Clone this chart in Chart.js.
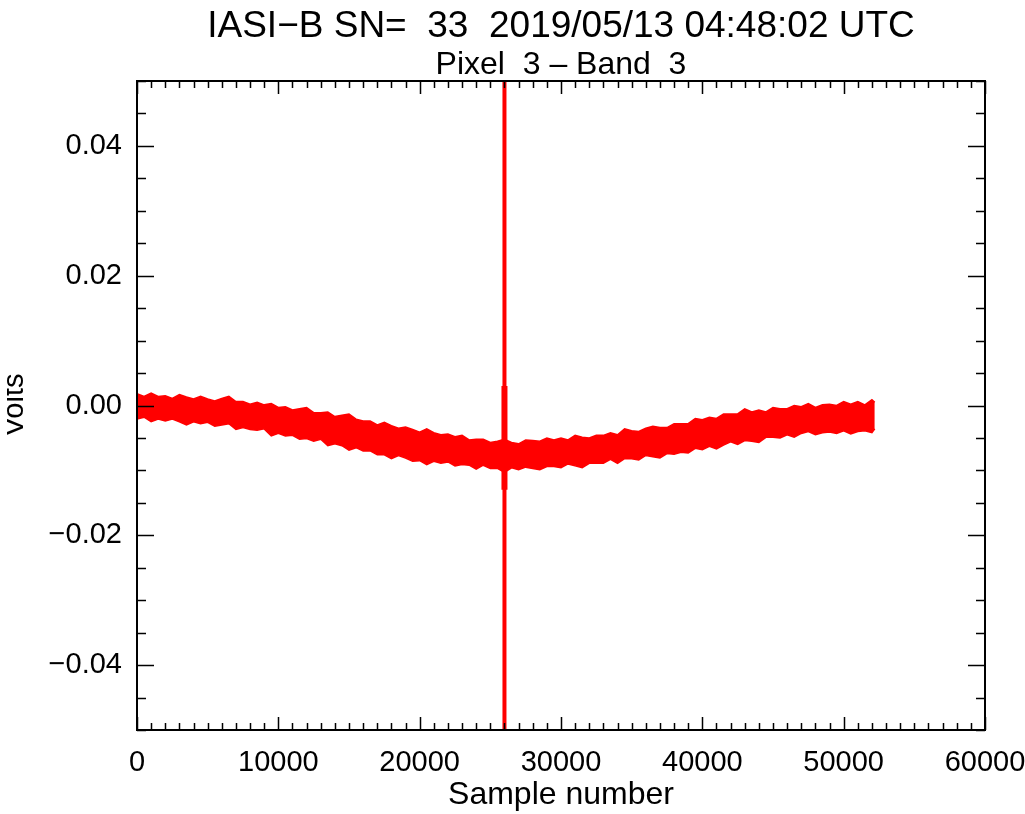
<!DOCTYPE html>
<html>
<head>
<meta charset="utf-8">
<script src="https://cdn.jsdelivr.net/npm/chart.js@4.4.1/dist/chart.umd.min.js"></script>
<style>
  body { margin: 0; background: #fff; }
  canvas { display: block; }
</style>
</head>
<body>
<canvas id="grafico" width="1025" height="814"></canvas>
<script>
// amostras (eixo x) onde foram lidos os limites da faixa de ruido
const amostras = [
  0, 500, 1000, 1500, 2000, 2500, 3000, 3500, 4000, 4500,
  5000, 5500, 6000, 6500, 7000, 7500, 8000, 8500, 9000, 9500,
  10000, 10500, 11000, 11500, 12000, 12500, 13000, 13500, 14000, 14500,
  15000, 15500, 16000, 16500, 17000, 17500, 18000, 18500, 19000, 19500,
  20000, 20500, 21000, 21500, 22000, 22500, 23000, 23500, 24000, 24500,
  25000, 25500, 26000, 26500, 27000, 27500, 28000, 28500, 29000, 29500,
  30000, 30500, 31000, 31500, 32000, 32500, 33000, 33500, 34000, 34500,
  35000, 35500, 36000, 36500, 37000, 37500, 38000, 38500, 39000, 39500,
  40000, 40500, 41000, 41500, 42000, 42500, 43000, 43500, 44000, 44500,
  45000, 45500, 46000, 46500, 47000, 47500, 48000, 48500, 49000, 49500,
  50000, 50500, 51000, 51500, 52000, 52200
];

// limite superior da faixa (volts)
const limiteSuperior = [
  0.0018, 0.0014, 0.0019, 0.0014, 0.0015, 0.0011, 0.0017, 0.0013, 0.0010, 0.0014,
  0.0010, 0.0007, 0.0011, 0.0014, 0.0006, 0.0006, 0.0002, 0.0005, 0.0001, 0.0003,
  -0.0003, -0.0002, -0.0007, -0.0005, -0.0003, -0.0011, -0.0011, -0.0010, -0.0017, -0.0015,
  -0.0013, -0.0021, -0.0024, -0.0024, -0.0030, -0.0026, -0.0031, -0.0035, -0.0033, -0.0037,
  -0.0041, -0.0036, -0.0042, -0.0045, -0.0044, -0.0048, -0.0046, -0.0053, -0.0052, -0.0052,
  -0.0057, -0.0055, -0.0052, -0.0057, -0.0059, -0.0053, -0.0054, -0.0055, -0.0050, -0.0053,
  -0.0050, -0.0053, -0.0046, -0.0049, -0.0050, -0.0046, -0.0046, -0.0042, -0.0045, -0.0036,
  -0.0039, -0.0040, -0.0035, -0.0032, -0.0034, -0.0034, -0.0028, -0.0028, -0.0028, -0.0020,
  -0.0022, -0.0018, -0.0020, -0.0013, -0.0013, -0.0013, -0.0005, -0.0010, -0.0007, -0.0010,
  -0.0003, -0.0005, -0.0005, 0.0000, -0.0002, 0.0003, -0.0003, 0.0001, 0.0002, 0.0000,
  0.0006, 0.0002, 0.0006, 0.0001, 0.0009, 0.0005
];

// limite inferior da faixa (volts)
const limiteInferior = [
  -0.0021, -0.0018, -0.0025, -0.0021, -0.0024, -0.0021, -0.0025, -0.0030, -0.0025, -0.0028,
  -0.0026, -0.0032, -0.0030, -0.0028, -0.0037, -0.0034, -0.0037, -0.0038, -0.0036, -0.0047,
  -0.0043, -0.0047, -0.0046, -0.0052, -0.0051, -0.0055, -0.0052, -0.0062, -0.0059, -0.0062,
  -0.0069, -0.0065, -0.0070, -0.0070, -0.0076, -0.0076, -0.0082, -0.0077, -0.0081, -0.0086,
  -0.0085, -0.0091, -0.0086, -0.0089, -0.0087, -0.0093, -0.0091, -0.0092, -0.0098, -0.0092,
  -0.0097, -0.0097, -0.0103, -0.0096, -0.0099, -0.0095, -0.0097, -0.0099, -0.0094, -0.0094,
  -0.0096, -0.0090, -0.0093, -0.0096, -0.0089, -0.0089, -0.0089, -0.0083, -0.0089, -0.0082,
  -0.0082, -0.0084, -0.0077, -0.0079, -0.0081, -0.0074, -0.0075, -0.0072, -0.0073, -0.0066,
  -0.0068, -0.0063, -0.0067, -0.0061, -0.0056, -0.0060, -0.0054, -0.0055, -0.0057, -0.0049,
  -0.0049, -0.0050, -0.0045, -0.0049, -0.0043, -0.0040, -0.0045, -0.0042, -0.0041, -0.0043,
  -0.0039, -0.0044, -0.0040, -0.0039, -0.0042, -0.0036
];

// pico central (sai da escala nos dois sentidos)
const picoAmostras = [26000, 26000];
const picoVolts = [0.05, -0.05];
const nucleoAmostras = [26000, 26000];
const nucleoVolts = [0.003, -0.013];

// ticks
const xTicks = [0, 10000, 20000, 30000, 40000, 50000, 60000];
const xTickLabels = ['0', '10000', '20000', '30000', '40000', '50000', '60000'];
const yTicks = [-0.04, -0.02, 0.00, 0.02, 0.04];
const yTickLabels = ['\u22120.04', '\u22120.02', '0.00', '0.02', '0.04'];

const titulo = 'IASI\u2212B SN=  33  2019/05/13 04:48:02 UTC';
const subtitulo = 'Pixel  3 \u2013 Band  3';

const vermelho = '#ff0000';
const fonte = '"Liberation Sans", Arial, Helvetica, sans-serif';

function pontos(xs, ys) {
    return xs.map((v, i) => ({ x: v, y: ys[i] }));
}

// eixos no estilo IDL: caixa fechada e ticks para dentro
const eixosIDL = {
    id: 'eixosIDL',
    afterDatasetsDraw(chart) {
        const { ctx, chartArea: a, scales: { x, y } } = chart;
        ctx.save();
        ctx.strokeStyle = '#000';
        ctx.lineWidth = 1.5;
        ctx.beginPath();
        // ticks do eixo x: menor a cada 1000, maior a cada 10000
        const nx = Math.round((x.max - x.min) / 1000);
        for (let i = 0; i <= nx; i++) {
            const v = x.min + i * 1000;
            const px = Math.round(x.getPixelForValue(v)) + 0.5;
            const len = (v % 10000 === 0) ? 13 : 7;
            ctx.moveTo(px, a.bottom); ctx.lineTo(px, a.bottom - len);
            ctx.moveTo(px, a.top); ctx.lineTo(px, a.top + len);
        }
        // ticks do eixo y: menor a cada 0.005, maior a cada 0.02
        const ny = Math.round((y.max - y.min) / 0.005);
        for (let i = 0; i <= ny; i++) {
            const v = y.min + i * 0.005;
            const py = Math.round(y.getPixelForValue(v)) + 0.5;
            const q = v / 0.02;
            const len = Math.abs(q - Math.round(q)) < 1e-6 ? 17 : 9;
            ctx.moveTo(a.left, py); ctx.lineTo(a.left + len, py);
            ctx.moveTo(a.right, py); ctx.lineTo(a.right - len, py);
        }
        ctx.stroke();
        ctx.lineWidth = 2;
        ctx.strokeRect(a.left, a.top, a.right - a.left, a.bottom - a.top);
        ctx.restore();
    },
    afterDraw(chart) {
        const { ctx, chartArea: a } = chart;
        const cx = (a.left + a.right) / 2;
        ctx.save();
        ctx.fillStyle = '#000';
        ctx.textAlign = 'center';
        ctx.textBaseline = 'alphabetic';
        ctx.font = '37px ' + fonte;
        ctx.fillText(titulo, cx, 37);
        ctx.font = '32px ' + fonte;
        ctx.fillText(subtitulo, cx, 74);
        // rotulo do eixo y, cortado na borda esquerda como no original
        ctx.beginPath();
        ctx.rect(7, a.top, 40, a.bottom - a.top);
        ctx.clip();
        ctx.translate(23, 405);
        ctx.rotate(-Math.PI / 2);
        ctx.font = '29px ' + fonte;
        ctx.fillText('Volts', 0, 0);
        ctx.restore();
    }
};

const config = {
    type: 'line',
    data: {
        datasets: [
            {
                data: pontos(amostras, limiteSuperior),
                borderColor: vermelho,
                borderWidth: 1.5,
                pointRadius: 0,
                fill: false
            },
            {
                data: pontos(amostras, limiteInferior),
                borderColor: vermelho,
                backgroundColor: vermelho,
                borderWidth: 1.5,
                pointRadius: 0,
                fill: '-1'
            },
            {
                data: pontos(picoAmostras, picoVolts),
                borderColor: vermelho,
                borderWidth: 4,
                pointRadius: 0,
                fill: false
            },
            {
                data: pontos(nucleoAmostras, nucleoVolts),
                borderColor: vermelho,
                borderWidth: 6,
                pointRadius: 0,
                fill: false
            }
        ]
    },
    options: {
        responsive: false,
        animation: false,
        devicePixelRatio: 1,
        layout: { padding: { left: 0, right: 40, top: 81, bottom: 0 } },
        plugins: {
            legend: { display: false },
            tooltip: { enabled: false }
        },
        elements: { line: { tension: 0 } },
        scales: {
            x: {
                type: 'linear',
                min: 0,
                max: 60000,
                afterBuildTicks: s => { s.ticks = xTicks.map(v => ({ value: v })); },
                afterFit: s => { s.height = 84; s.paddingLeft = 0; s.paddingRight = 0; },
                grid: { display: false, drawTicks: false },
                border: { display: false },
                ticks: {
                    color: '#000',
                    font: { family: fonte, size: 29 },
                    padding: 16,
                    maxRotation: 0,
                    autoSkip: false,
                    callback: (v, i) => xTickLabels[i]
                },
                title: {
                    display: true,
                    text: 'Sample number',
                    color: '#000',
                    font: { family: fonte, size: 32 },
                    padding: { top: 0, bottom: 0 }
                }
            },
            y: {
                type: 'linear',
                min: -0.05,
                max: 0.05,
                afterBuildTicks: s => { s.ticks = yTicks.map(v => ({ value: v })); },
                afterFit: s => { s.width = 137; s.paddingTop = 0; s.paddingBottom = 0; },
                grid: { display: false, drawTicks: false },
                border: { display: false },
                ticks: {
                    color: '#000',
                    font: { family: fonte, size: 29 },
                    padding: 15,
                    autoSkip: false,
                    callback: (v, i) => yTickLabels[i]
                }
            }
        }
    },
    plugins: [eixosIDL]
};

document.addEventListener('DOMContentLoaded', function() {
    const ctx = document.getElementById('grafico').getContext('2d');
    new Chart(ctx, config);
});
</script>
</body>
</html>
